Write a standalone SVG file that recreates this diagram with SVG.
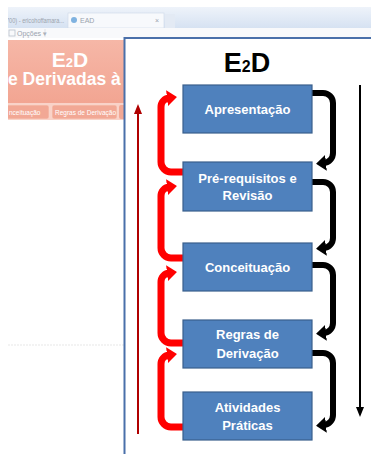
<svg xmlns="http://www.w3.org/2000/svg" width="371" height="454" viewBox="0 0 371 454">
<style>
.box{fill:#4F81BD;stroke:#3A5F8C;stroke-width:1.2}
.bt{font-family:"Liberation Sans",Arial,sans-serif;font-weight:bold;font-size:13px;fill:#fff;text-anchor:middle}
.blk{fill:none;stroke:#000;stroke-width:6}
.red{fill:none;stroke:#FF0000;stroke-width:7}
.bg{font-family:"Liberation Sans",Arial,sans-serif;fill:#fff;font-weight:bold}
.ui{font-family:"Liberation Sans",Arial,sans-serif;fill:#9aa3ae;font-size:7px}
</style>
<defs>
<linearGradient id="bar" x1="0" y1="0" x2="0" y2="1">
<stop offset="0" stop-color="#eef3fa"/><stop offset="1" stop-color="#d6e2f2"/>
</linearGradient>
<linearGradient id="hdr" x1="0" y1="0" x2="0" y2="1">
<stop offset="0" stop-color="#F6B7A7"/><stop offset="1" stop-color="#F2A592"/>
</linearGradient>
<clipPath id="clipL"><rect x="8" y="0" width="116" height="454"/></clipPath>
<marker id="ahB" markerUnits="userSpaceOnUse" markerWidth="14" markerHeight="16" refX="2" refY="8" orient="auto"><path d="M0,0 L10,8 L0,16 z" fill="#000"/></marker>
<marker id="ahR" markerUnits="userSpaceOnUse" markerWidth="14" markerHeight="16" refX="2" refY="8" orient="auto"><path d="M0,0 L10,8 L0,16 z" fill="#FF0000"/></marker>
<marker id="ahT" markerUnits="userSpaceOnUse" markerWidth="10" markerHeight="10" refX="1" refY="4" orient="auto"><path d="M0,0 L10,4 L0,8 z" fill="#B00000"/></marker>
<marker id="ahK" markerUnits="userSpaceOnUse" markerWidth="10" markerHeight="10" refX="1" refY="4" orient="auto"><path d="M0,0 L10,4 L0,8 z" fill="#000"/></marker>
</defs>
<rect width="371" height="454" fill="#fff"/>
<g id="background">
<rect x="8" y="7" width="363" height="21" fill="url(#bar)"/>
<rect x="68" y="13" width="96" height="15" fill="#f7f9fc" stroke="#cdd8e6" stroke-width="0.6"/>
<rect x="165" y="14" width="10" height="14" fill="#e3eaf4"/>
<circle cx="74" cy="20" r="3" fill="#7fb2e0"/>
<text class="ui" x="80" y="23">EAD</text>
<text class="ui" x="155" y="23" font-size="6">×</text>
<g clip-path="url(#clipL)"><text class="ui" x="6" y="23" font-size="6" textLength="58" lengthAdjust="spacingAndGlyphs">700) - ericohoffamara...</text></g>
<rect x="8" y="28" width="363" height="10" fill="#f8f9fb"/>
<rect x="9" y="30" width="6" height="6" fill="none" stroke="#b9c2cc" stroke-width="0.8"/>
<text class="ui" x="17" y="36">Opções  ▾</text>
<line x1="45" y1="29" x2="45" y2="37" stroke="#d0d5db" stroke-width="0.6"/>
<rect x="8" y="40" width="116" height="63" fill="url(#hdr)"/>
<rect x="8" y="103" width="116" height="17" fill="#F9D2C8"/>
<g clip-path="url(#clipL)">
<text class="bg" x="70" y="67" font-size="21" text-anchor="middle">E<tspan font-size="13">2</tspan>D</text>
<text class="bg" x="8" y="85" font-size="17.5">e Derivadas à</text>
<rect x="4" y="105" width="45" height="14" rx="2" fill="#F2A895" stroke="#f9d8cf" stroke-width="0.6"/>
<rect x="52" y="105" width="65" height="14" rx="2" fill="#F2A895" stroke="#f9d8cf" stroke-width="0.6"/>
<rect x="119" y="105" width="10" height="14" rx="2" fill="#F2A895"/>
<text x="9" y="115" font-family="Liberation Sans,Arial,sans-serif" font-size="6.5" fill="#fff">nceituação</text>
<text x="55" y="115" font-family="Liberation Sans,Arial,sans-serif" font-size="6.5" fill="#fff">Regras de Derivação</text>
</g>
<line x1="8" y1="345" x2="124" y2="345" stroke="#e8e8e8" stroke-width="1.2" stroke-dasharray="2,1"/>
</g>
<g id="panel">
<rect x="124.5" y="38" width="260" height="430" fill="#fff" stroke="#4A70AA" stroke-width="2"/>
<text x="247" y="72" font-family="Liberation Sans,Arial,sans-serif" font-weight="bold" font-size="27" text-anchor="middle" fill="#000">E<tspan font-size="16">2</tspan>D</text>
</g>
<g id="connectors">
<path class="blk" d="M312,93 H323 A10,10 0 0 1 333,103 V153 A10,10 0 0 1 324,163" marker-end="url(#ahB)"/>
<path class="blk" d="M312,182 H323 A10,10 0 0 1 333,192 V238 A10,10 0 0 1 324,248" marker-end="url(#ahB)"/>
<path class="blk" d="M312,265 H323 A10,10 0 0 1 333,275 V323 A10,10 0 0 1 324,333" marker-end="url(#ahB)"/>
<path class="blk" d="M312,353 H323 A10,10 0 0 1 333,363 V415 A10,10 0 0 1 324,425" marker-end="url(#ahB)"/>
<path class="red" d="M183,172 H171 A10,10 0 0 1 161,162 V107 A9,9 0 0 1 169,98" marker-end="url(#ahR)"/>
<path class="red" d="M183,258 H171 A10,10 0 0 1 161,248 V196 A9,9 0 0 1 169,187" marker-end="url(#ahR)"/>
<path class="red" d="M183,343 H171 A10,10 0 0 1 161,333 V282 A9,9 0 0 1 169,273" marker-end="url(#ahR)"/>
<path class="red" d="M183,427 H171 A10,10 0 0 1 161,417 V364 A9,9 0 0 1 169,355" marker-end="url(#ahR)"/>
<line x1="138" y1="434" x2="138" y2="113" stroke="#B00000" stroke-width="2" marker-end="url(#ahT)"/>
<line x1="360" y1="85" x2="360" y2="408" stroke="#000" stroke-width="2" marker-end="url(#ahK)"/>
</g>
<g id="n1"><rect class="box" x="183" y="85" width="129" height="48"/><text class="bt" x="247.5" y="114">Apresentação</text></g>
<g id="n2"><rect class="box" x="183" y="162" width="129" height="49"/><text class="bt" x="247.5" y="183">Pré-requisitos e</text><text class="bt" x="247.5" y="200">Revisão</text></g>
<g id="n3"><rect class="box" x="183" y="243" width="129" height="48"/><text class="bt" x="247.5" y="272">Conceituação</text></g>
<g id="n4"><rect class="box" x="183" y="320" width="129" height="48"/><text class="bt" x="247.5" y="339">Regras de</text><text class="bt" x="247.5" y="358">Derivação</text></g>
<g id="n5"><rect class="box" x="183" y="392" width="129" height="48"/><text class="bt" x="247.5" y="412">Atividades</text><text class="bt" x="247.5" y="430">Práticas</text></g>
</svg>
